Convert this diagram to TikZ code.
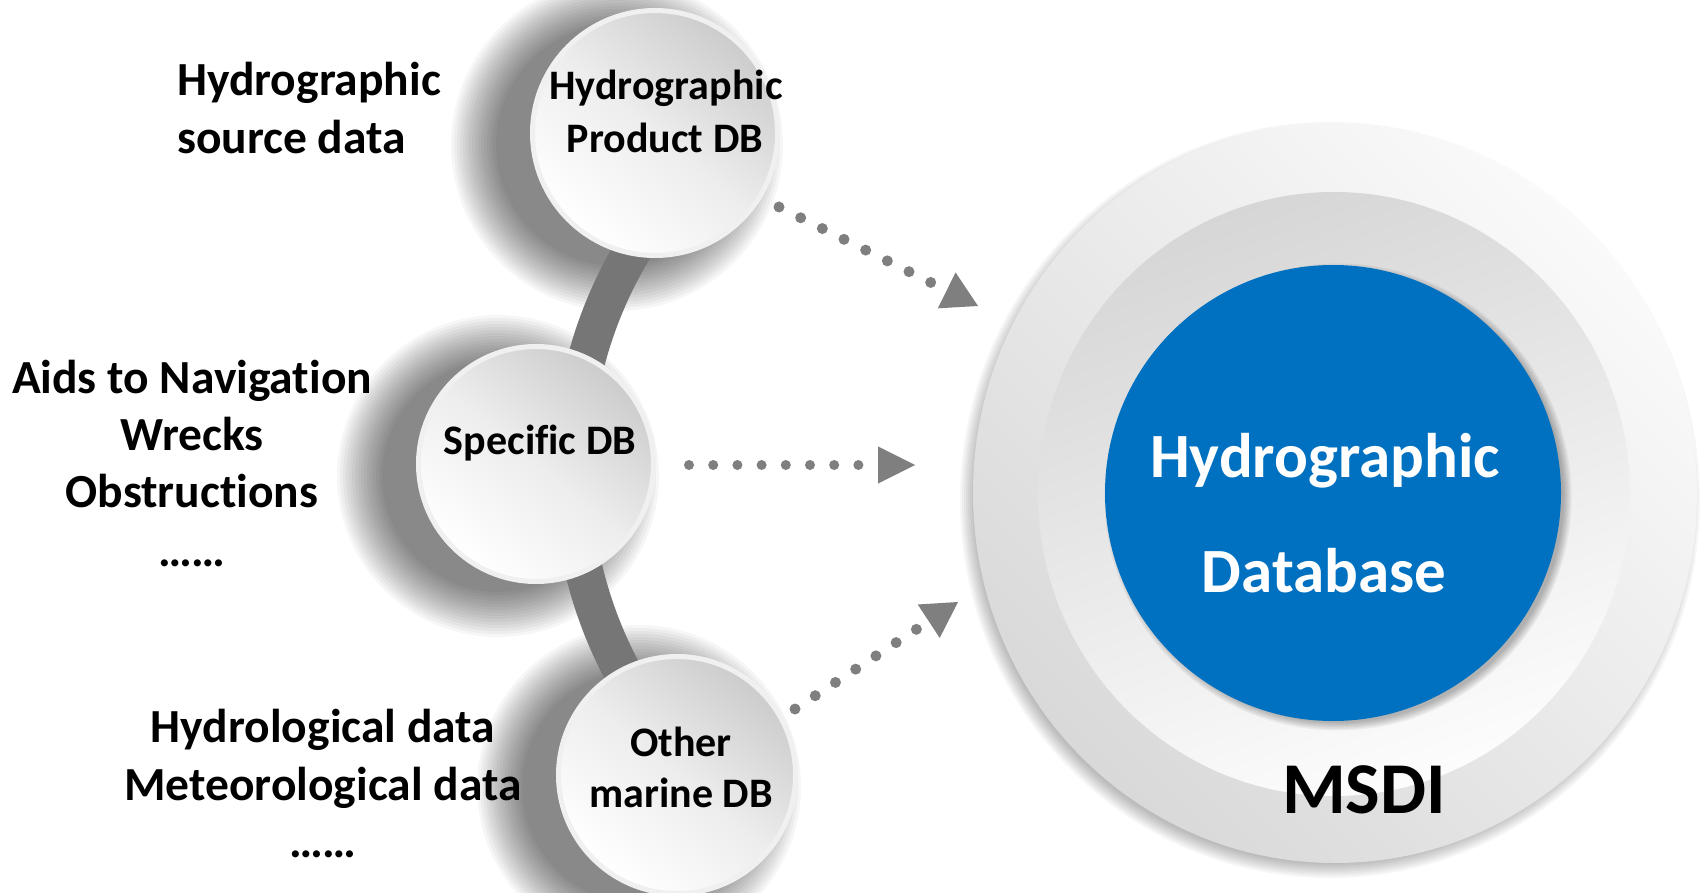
\documentclass[tikz,border=0pt]{standalone}
\usepackage{fontspec}
\setmainfont{Carlito}[Ligatures=NoCommon]
\usetikzlibrary{arrows.meta,shapes.geometric}
\definecolor{dotgray}{HTML}{7F7F7F}
\definecolor{bandgray}{HTML}{767676}
\definecolor{msdiblue}{HTML}{0070C0}
\begin{document}
\begin{tikzpicture}[x=1pt,y=-1pt,
  lefttxt/.style={font=\fontsize{47.5}{57}\selectfont\bfseries, inner sep=0pt, anchor=base},
  circtxt/.style={font=\fontsize{42}{51}\selectfont\bfseries, inner sep=0pt, anchor=base},
  bluetxt/.style={font=\fontsize{63}{75}\selectfont\bfseries, text=white, inner sep=0pt, anchor=base},
  msditxt/.style={font=\fontsize{73}{88}\selectfont\bfseries, inner sep=0pt, anchor=base},
  dbcircle/.style={circle, inner sep=0pt, draw=black!6, line width=5pt,
    top color=black!20, bottom color=white, middle color=black!7, shading angle=-40},
  dotline/.style={draw=dotgray, line width=#1, line cap=round, dash pattern=on 0pt off 24.2pt},
  band/.style={draw=bandgray, line width=38pt},
  softshadow/.style={fill=black, opacity=0.035}
]
\useasboundingbox (0,0) rectangle (1704,893);
\fill[white] (0,0) rectangle (1704,893);

% soft shadows of the three small circles
\foreach \cx/\cy/\r in {655/133/125, 536/464/120, 677/775/121}{
  \foreach \k in {0,...,15}{
    \fill[softshadow] (\cx-38,\cy+12) circle[radius=\r-4+3*\k];
  }
}

% connecting band behind the small circles
\draw[band] (1000,470) ++(145:428) arc[start angle=145, end angle=218, radius=428];

% small circles
\node[dbcircle, minimum size=245pt] (hpdb) at (655,133) {};
\node[dbcircle, minimum size=235pt] (spdb) at (536,464) {};
\node[dbcircle, minimum size=237pt] (omdb) at (677,775) {};

% big circle shadow
\foreach \k in {0,...,7}{
  \fill[black, opacity=0.035] (1330,500) ellipse[x radius=356+2*\k, y radius=364+2*\k];
}
\node[ellipse, inner sep=0pt, minimum width=724pt, minimum height=740pt,
  top color=black!2, bottom color=black!15, shading angle=-45] (msdi) at (1335,493) {};
\node[ellipse, inner sep=0pt, minimum width=592pt, minimum height=604pt,
  top color=black!16, bottom color=black!1, shading angle=20] (ring) at (1334,494) {};
\foreach \k in {0,...,5}{
  \fill[black, opacity=0.05] (1338,497) circle[radius=226+1.5*\k];
}
\node[circle, inner sep=0pt, fill=msdiblue, minimum size=456pt] (hdb) at (1333,493) {};

% texts on the left
\node[lefttxt, anchor=base west] (l1a) at (177,96) {Hydrographic};
\node[lefttxt, anchor=base west] (l1b) at (177,154) {source data};
\node[lefttxt] (l2a) at (192,393) {Aids to Navigation};
\node[lefttxt] (l2b) at (192,450) {Wrecks};
\node[lefttxt] (l2c) at (192,507) {Obstructions};
\node[lefttxt] (l2d) at (192,566) {……};
\node[lefttxt] (l3a) at (323,742) {Hydrological data};
\node[lefttxt] (l3b) at (323,800) {Meteorological data};
\node[lefttxt] (l3c) at (323,857) {……};

% circle labels
\node[circtxt] (t1a) at (666,100) {Hydrographic};
\node[circtxt] (t1b) at (665,153) {Product DB};
\node[circtxt] (t2a) at (540,454) {Specific DB};
\node[circtxt] (t3a) at (681,756) {Other};
\node[circtxt] (t3b) at (681,807) {marine DB};
\node[bluetxt] (b1) at (1325,477) {Hydrographic};
\node[bluetxt] (b2) at (1324,592) {Database};
\node[msditxt] (m1) at (1364,813) {MSDI};

% dotted arrows
\coordinate (a1s) at (779,207);
\coordinate (a1e) at (978,306);
\coordinate (a2s) at (689,465);
\coordinate (a2e) at (915,465);
\coordinate (a3s) at (795,709);
\coordinate (a3e) at (958,602);
\draw[dotline=11pt, -{Triangle[length=35pt,width=40pt,line width=0pt]}] (a1s) -- (a1e);
\draw[dotline=10pt, -{Triangle[length=37pt,width=37pt,line width=0pt]}] (a2s) -- (a2e);
\draw[dotline=11pt, -{Triangle[length=35pt,width=40pt,line width=0pt]}] (a3s) -- (a3e);
\end{tikzpicture}
\end{document}
